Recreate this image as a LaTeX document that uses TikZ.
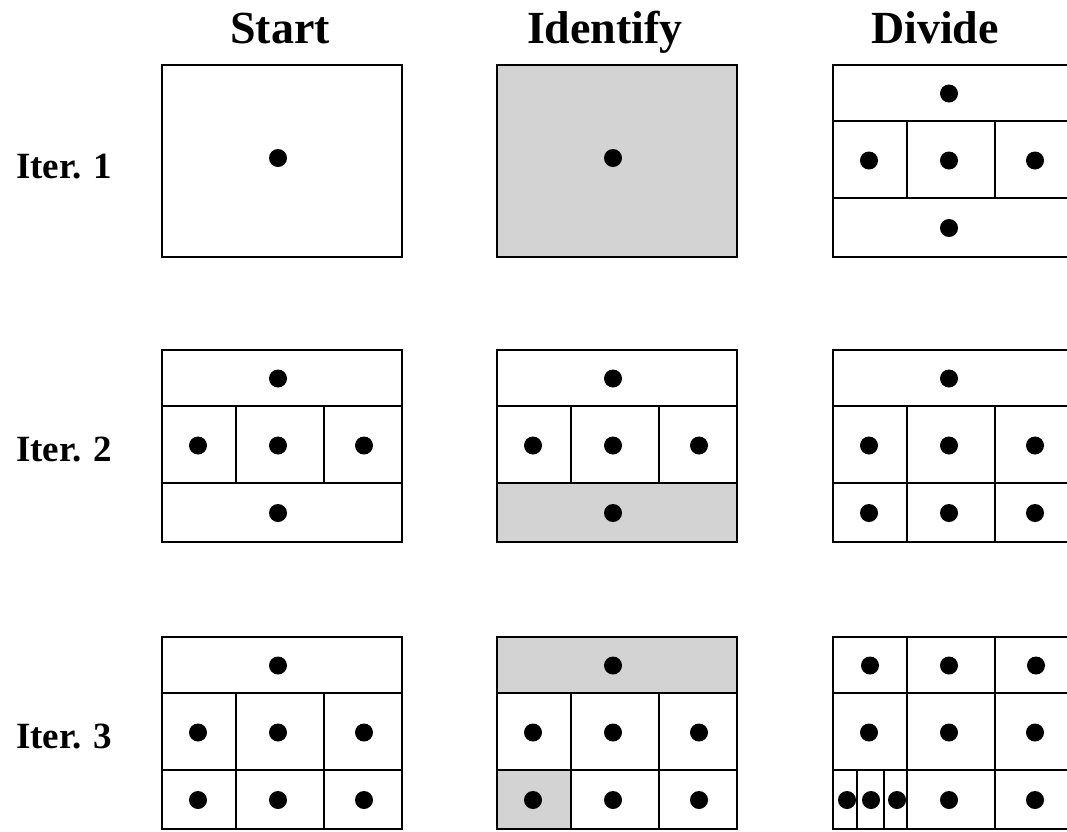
\documentclass[tikz,border=0pt]{standalone}
\usepackage{fontspec}
\setmainfont{Liberation Serif}
\definecolor{idgray}{RGB}{211,211,211}
\begin{document}
\begin{tikzpicture}[x=1pt,y=-1pt,
  outer/.style={line width=2.2pt},
  inner/.style={line width=1.6pt},
  dotr/.style={fill=black},
  title/.style={font=\fontsize{46}{50}\selectfont\bfseries, anchor=base, inner sep=0pt},
  iter/.style={font=\fontsize{37}{40}\selectfont\bfseries, anchor=base west, inner sep=0pt},
  single/.pic={
    \draw[outer] (0,0) rectangle (240,192);
    \fill[dotr] (116,93) circle (9);
  },
  threeband/.pic={
    \draw[inner] (0,56) -- (240,56) (0,133) -- (240,133)
                 (74,56) -- (74,133) (162,56) -- (162,133);
    \draw[outer] (0,0) rectangle (240,192);
    \foreach \p in {(116,28.5),(36,95.5),(116,95.5),(202,95.5),(116,163)}
      \fill[dotr] \p circle (9);
  },
  twobot/.pic={
    \draw[inner] (0,56) -- (240,56) (0,133) -- (240,133)
                 (74,56) -- (74,192) (162,56) -- (162,192);
    \draw[outer] (0,0) rectangle (240,192);
    \foreach \p in {(116,28.5),(36,95.5),(116,95.5),(202,95.5),(36,163),(116,163),(202,163)}
      \fill[dotr] \p circle (9);
  },
  gridnine/.pic={
    \draw[inner] (0,56) -- (240,56) (0,133) -- (240,133)
                 (74,0) -- (74,192) (162,0) -- (162,192)
                 (24,133) -- (24,192) (51,133) -- (51,192);
    \draw[outer] (0,0) rectangle (240,192);
    \foreach \p in {(37,28.5),(116,28.5),(203,28.5),(36,95.5),(116,95.5),(202,95.5),
                    (14,163),(38,163),(64,163),(116,163),(202,163)}
      \fill[dotr] \p circle (9);
  }]
\useasboundingbox (0,0) rectangle (1067,831);
\fill[white] (0,0) rectangle (1067,831);

% titles
\node[title] (tstart) at (280,43) {Start};
\node[title] (tident) at (605,43) {Identify};
\node[title] (tdiv) at (935,43) {Divide};

% row labels
\node[iter] (it1) at (16,178) {Iter. 1};
\node[iter] (it2) at (16,461) {Iter. 2};
\node[iter] (it3) at (16,748) {Iter. 3};

% highlighted regions
\fill[idgray] (497,65) rectangle (737,257);
\fill[idgray] (497,483) rectangle (737,542);
\fill[idgray] (497,637) rectangle (737,693);
\fill[idgray] (497,771) rectangle (571,830);

% row 1
\pic at (162,65) {single};
\pic at (497,65) {single};
\pic at (833,65) {threeband};

% row 2
\pic at (162,350) {threeband};
\pic at (497,350) {threeband};
\pic at (833,350) {twobot};

% row 3
\pic at (162,637) {twobot};
\pic at (497,637) {twobot};
\pic at (833,637) {gridnine};
\end{tikzpicture}
\end{document}
